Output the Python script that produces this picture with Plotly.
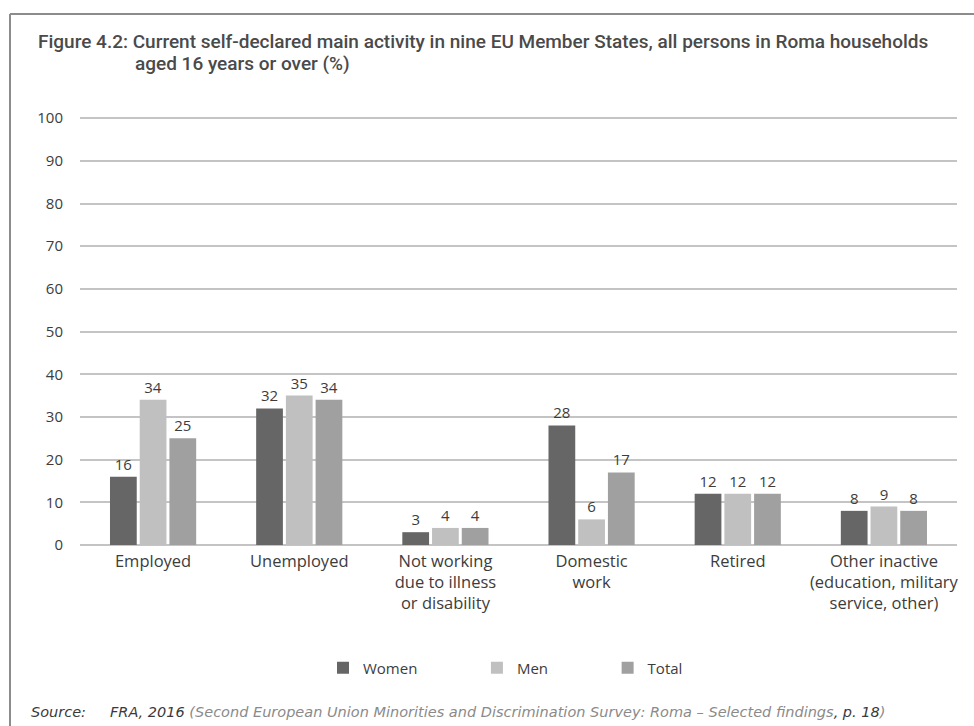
import plotly.graph_objects as go

# Survey categories and percentages by group
categories = [
    "Employed",
    "Unemployed",
    "Not working<br>due to illness<br>or disability",
    "Domestic<br>work",
    "Retired",
    "Other inactive<br>(education, military<br>service, other)",
]
women = [16, 32, 3, 28, 12, 8]
men = [34, 35, 4, 6, 12, 9]
total = [25, 34, 4, 17, 12, 8]

series = [
    ("Women", women, "#666666"),
    ("Men", men, "#c0c0c0"),
    ("Total", total, "#a0a0a0"),
]

W, H = 974, 726
ML, MR, MT, MB = 80, 17, 116, 181
PW, PH = W - ML - MR, H - MT - MB


def px_x(px):
    return (px - ML) / PW


def px_y(py):
    return (H - MB - py) / PH


TEXT = "#3c3c3c"
BODY_FONT = "Open Sans, DejaVu Sans, sans-serif"
# trailing non-breaking spaces widen the gap between legend entries
LEGEND_PAD = "\u00a0" * 14

fig = go.Figure()
for name, vals, col in series:
    fig.add_trace(go.Bar(
        x=categories,
        y=vals,
        name=name + LEGEND_PAD,
        marker=dict(color=col, line=dict(width=0)),
        text=[str(v) for v in vals],
        textposition="outside",
        textfont=dict(family=BODY_FONT, size=15, color=TEXT),
        cliponaxis=False,
    ))

fig.update_layout(
    width=W,
    height=H,
    margin=dict(l=ML, r=MR, t=MT, b=MB, pad=0),
    paper_bgcolor="white",
    plot_bgcolor="white",
    barmode="group",
    bargap=0.39,
    bargroupgap=0.1,
    font=dict(family=BODY_FONT, color=TEXT),
    showlegend=True,
    legend=dict(
        orientation="h",
        x=px_x(323),
        y=px_y(668),
        xanchor="left",
        yanchor="middle",
        font=dict(family=BODY_FONT, size=15, color=TEXT),
        itemwidth=30,
        traceorder="normal",
    ),
    xaxis=dict(
        showline=False,
        showgrid=False,
        ticks="",
        tickfont=dict(family=BODY_FONT, size=16.5, color=TEXT),
        ticklabelstandoff=4,
    ),
    yaxis=dict(
        range=[0, 100.5],
        tickvals=list(range(0, 101, 10)),
        showgrid=True,
        gridcolor="#c4c4c4",
        gridwidth=1.5,
        zeroline=True,
        zerolinecolor="#c4c4c4",
        zerolinewidth=1.5,
        showline=False,
        ticks="",
        tickfont=dict(family=BODY_FONT, size=15, color=TEXT),
        ticklabelstandoff=16,
    ),
)

# Frame around the figure
frame = dict(color="#8c8c8c", width=2)
fig.add_shape(type="line", xref="paper", yref="paper",
              x0=px_x(10), x1=px_x(974), y0=px_y(14), y1=px_y(14), line=frame)
fig.add_shape(type="line", xref="paper", yref="paper",
              x0=px_x(10), x1=px_x(10), y0=px_y(14), y1=px_y(726), line=frame)

# Title (two lines, second indented under the caption text)
TITLE_FONT = dict(family="Roboto, sans-serif", size=19, color="#4a4a4a", weight=500)
fig.add_annotation(
    text="Figure 4.2: Current self-declared main activity in nine EU Member States, all persons in Roma households",
    xref="paper", yref="paper", x=px_x(36), y=px_y(41),
    xanchor="left", yanchor="middle", showarrow=False, font=TITLE_FONT,
)
fig.add_annotation(
    text="aged 16 years or over (%)",
    xref="paper", yref="paper", x=px_x(133), y=px_y(63),
    xanchor="left", yanchor="middle", showarrow=False, font=TITLE_FONT,
)

# Source line
SRC_FONT = dict(family="DejaVu Sans, sans-serif", size=14.5, color="#3a3a3a")
fig.add_annotation(
    text="<i>Source:</i>",
    xref="paper", yref="paper", x=px_x(29), y=px_y(712),
    xanchor="left", yanchor="middle", showarrow=False, font=SRC_FONT,
)
fig.add_annotation(
    text="<i>FRA, 2016 </i><i><span style='color:#8a8a8a'>(Second European Union Minorities and Discrimination Survey: Roma – Selected findings</span></i><i>, p. 18</i><i><span style='color:#8a8a8a'>)</span></i>",
    xref="paper", yref="paper", x=px_x(108), y=px_y(712),
    xanchor="left", yanchor="middle", showarrow=False, font=SRC_FONT,
)

fig.write_html("out.html")
